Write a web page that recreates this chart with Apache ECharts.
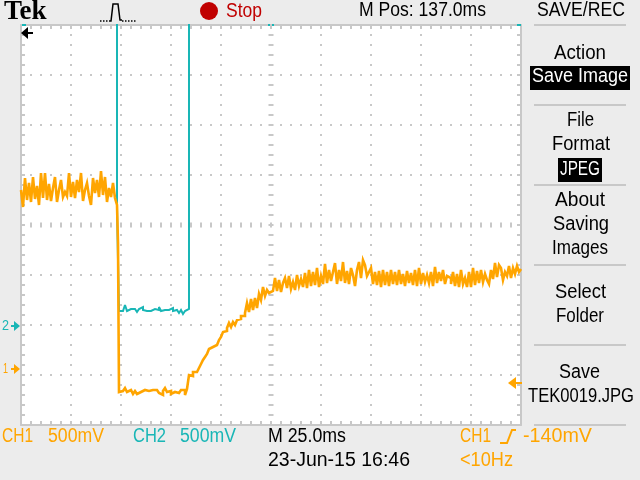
<!DOCTYPE html>
<html>
<head>
<meta charset="utf-8">
<style>html,body{margin:0;padding:0;background:#ececec}#c{width:640px;height:480px}</style>
<script src="https://cdn.jsdelivr.net/npm/echarts@6/dist/echarts.min.js"></script>
</head>
<body>
<div id="c"></div>
<script>
// Time in ms from trigger, voltage in mV on screen (500 mV/div, 25 ms/div)
const ch1Before = [350,180,470,250,420,230,480,260,390,200,520,270,520,250,410,240,370,480,230,350,450,280,330,290,520,280,430,270,450,330,520,240,350,420,290,200,470,320,450,280,540,300,480,230,370,280,420,270];
const ch1Drop = [200,-180];
const ch1Low = [-1670,-1660,-1670,-1630,-1670,-1650,-1670,-1690,-1660,-1690,-1670,-1680,-1650,-1670,-1660,-1640,-1650,-1650,-1650,-1670,-1680,-1700,-1660,-1630,-1670,-1660,-1690,-1670,-1680,-1680,-1690,-1650,-1650,-1700,-1640];
const ch1Rise = [-1500,-1510,-1470,-1470,-1450,-1430,-1390,-1350,-1320,-1290,-1240,-1220,-1240,-1200,-1190,-1150,-1120,-1070,-1060,-1030,-980,-1020,-970,-1000,-950,-940,-910,-910,-880,-780,-870,-740,-850,-730,-830,-690,-750,-620,-710,-650,-680,-660];
const ch1Settle = [-650,-530,-660,-550,-670,-580,-530,-630,-510,-640,-570,-650,-500,-610,-540,-620,-480,-630,-450,-610,-470,-600,-430,-620,-510,-590,-390,-580,-450,-560,-470,-380,-590,-450,-560,-370,-580,-460,-590,-430,-500,-610,-450,-370,-530,-350,-400,-510,-470,-430,-590,-470,-600,-460,-620,-450,-600,-470,-610,-450,-590];
const ch1Tail = [-470,-600,-450,-590,-490,-610,-460,-580,-480,-600,-450,-610,-430,-590,-480,-570,-500,-580,-470,-610,-420,-580,-470,-560,-450,-590,-510,-530,-590,-470,-610,-490,-620,-450,-590,-530,-620,-470,-620,-430,-600,-460,-580,-450,-570,-490,-550,-590,-450,-540,-380,-520,-400,-430,-550,-470,-510,-410,-530,-430,-490,-410,-470,-440];
const ch2Fall = [[-77,2300],[-77,170],[-76,170]];
const ch2Low = [-860,-860,-850,-800,-860,-840,-860,-840,-860,-870,-840,-820,-850,-860,-880,-860,-840,-840,-860,-850,-820,-860,-850,-840,-850,-860,-830,-860,-850,-850,-880,-850,-890,-860,-840];
const ch2Rise = [[-41,-860],[-41,2300]];
const timeRange = [-125,125];
const voltRange = [-2000,2000];
const timePerDiv = 25;
const voltPerDiv = 500;

const run = (start, vals) => vals.map((v,i)=>[start+i, v]);
const ch1Data = [].concat(
  run(-125, ch1Before),
  [[-77, ch1Drop[0]], [-76.5, ch1Drop[1]]],
  run(-76, ch1Low),
  run(-41, ch1Rise),
  run(1, ch1Settle),
  run(62, ch1Tail)
);
const ch2Data = [].concat(ch2Fall, run(-76, ch2Low), ch2Rise);

const ORANGE='#ffa500', CYAN='#19b6b6', GRID='#c8c8c8', BLACK='#000', RED='#c00000';
const FONT='"Liberation Sans Narrow","Liberation Sans",sans-serif';
const meas=document.createElement('canvas').getContext('2d');
function label(text,x0,x1,y,fill,size){
  size=size||20;
  const font=size+'px '+FONT;
  meas.font=font;
  return {type:'text',x:x0,y:y,scaleX:(x1-x0)/meas.measureText(text).width,z:50,silent:true,
    style:{text:text,x:0,y:0,font:font,fill:fill||BLACK,textAlign:'left',textVerticalAlign:'middle'}};
}
const rect=(x,y,w,h,fill,z)=>({type:'rect',shape:{x,y,width:w,height:h},style:{fill},z:z||40,silent:true});
const sep=y=>rect(534,y-1,92,2,GRID);
const poly=(pts,fill)=>({type:'polygon',shape:{points:pts},style:{fill},z:45,silent:true});
const pline=(pts,stroke,w)=>({type:'polyline',shape:{points:pts},style:{stroke,lineWidth:w||1.5,fill:'none'},z:45,silent:true});

const graphics=[
  {type:'text',x:4,y:12,z:50,silent:true,style:{text:'Tek',x:0,y:0,font:'bold 27px "Liberation Serif",serif',fill:BLACK,textAlign:'left',textVerticalAlign:'middle'}},
  {type:'polyline',shape:{points:[[100,21],[109,21]]},style:{stroke:BLACK,lineWidth:1.5,lineDash:[1.5,1.5],fill:'none'},z:45,silent:true},
  pline([[109,21],[111,21],[113,4],[118,4],[120,20],[122,20]],BLACK),
  {type:'polyline',shape:{points:[[122,21],[136,21]]},style:{stroke:BLACK,lineWidth:1.5,lineDash:[1.5,1.5],fill:'none'},z:45,silent:true},
  {type:'circle',shape:{cx:209,cy:11,r:9},style:{fill:RED},z:45,silent:true},
  label('Stop',226,262,11,RED),
  label('M Pos: 137.0ms',359,486,10),
  label('SAVE/REC',537,625,10),
  sep(25),sep(105),sep(185),sep(265),sep(345),sep(425),
  label('Action',554,606,53),
  rect(530,66,100,24,BLACK),
  label('Save Image',532,628,76,'#fff'),
  label('File',567,594,120),
  label('Format',552,610,144),
  rect(558,158,44,24,BLACK),
  label('JPEG',560,600,169,'#fff'),
  label('About',555,605,200),
  label('Saving',553,609,224),
  label('Images',552,608,248),
  label('Select',555,606,292),
  label('Folder',556,604,316),
  label('Save',559,600,372),
  label('TEK0019.JPG',528,634,396),
  label('CH1',2,33,436,ORANGE),
  label('500mV',48,104,436,ORANGE),
  label('CH2',133,166,436,CYAN),
  label('500mV',180,236,436,CYAN),
  label('M 25.0ms',268,346,436),
  label('23-Jun-15 16:46',268,410,460),
  label('CH1',460,491,436,ORANGE),
  pline([[500,443],[507,443],[512,430],[516,430]],ORANGE,2),
  label('-140mV',523,592,436,ORANGE),
  label('<10Hz',460,513,460,ORANGE),
  // ground and trigger markers
  label('2',2,9,326,CYAN,15),
  poly([[20,326],[14,321],[14,331]],CYAN),
  rect(11,325,4,2,CYAN),
  label('1',3,8,369,ORANGE,15),
  poly([[20,369],[14,364],[14,374]],ORANGE),
  rect(11,368,4,2,ORANGE),
  poly([[21,33],[28,27],[28,39]],BLACK),
  rect(27,32,6,2,BLACK),
  poly([[508,383],[516,377],[516,389]],ORANGE),
  rect(515,382,7,2,ORANGE),
  // small cyan tips on the top frame
  rect(22,24,4,2,CYAN),
  rect(268,24,2,2,CYAN),
  rect(272,24,2,2,CYAN),
  rect(517,24,4,2,CYAN)
];

const hidden={show:false};
const tickStyle=(len,w)=>({show:true,inside:true,length:len,lineStyle:{color:GRID,width:w||2}});
const minor=(len,w)=>({show:true,splitNumber:5,length:len,lineStyle:{color:GRID,width:w||2}});
const xBase={type:'value',min:timeRange[0],max:timeRange[1],interval:timePerDiv,axisLabel:hidden,splitLine:hidden};
const yBase={type:'value',min:voltRange[0],max:voltRange[1],interval:voltPerDiv,axisLabel:hidden,splitLine:hidden};
const frame={show:true,onZero:false,lineStyle:{color:GRID,width:2}};

const chart=echarts.init(document.getElementById('c'),null,{renderer:'canvas',width:640,height:480});
chart.setOption({
  animation:false,
  backgroundColor:'#ececec',
  grid:{left:21,right:119,top:25,bottom:55,show:true,backgroundColor:'#fff',borderWidth:0,containLabel:false},
  xAxis:[
    Object.assign({},xBase,{position:'bottom',axisLine:frame,axisTick:tickStyle(4),minorTick:minor(4),
      splitLine:{show:true,lineStyle:{color:GRID,width:2,type:[2,8],dashOffset:1}}}),
    Object.assign({},xBase,{position:'top',axisLine:frame,axisTick:tickStyle(4),minorTick:minor(4)}),
    Object.assign({},xBase,{position:'bottom',offset:-197.5,axisLine:{show:false,onZero:false},axisTick:tickStyle(5),minorTick:minor(5)})
  ],
  yAxis:[
    Object.assign({},yBase,{position:'left',axisLine:frame,axisTick:tickStyle(4),minorTick:minor(4),
      splitLine:{show:true,lineStyle:{color:GRID,width:2,type:[2,8],dashOffset:1}}}),
    Object.assign({},yBase,{position:'right',axisLine:frame,axisTick:tickStyle(4),minorTick:minor(4)}),
    Object.assign({},yBase,{position:'left',offset:-247.5,axisLine:{show:false,onZero:false},axisTick:tickStyle(5),minorTick:minor(5)})
  ],
  graphic:graphics,
  series:[
    {name:'CH2',type:'line',data:ch2Data,xAxisIndex:0,yAxisIndex:0,showSymbol:false,symbol:'none',step:'end',
     lineStyle:{color:CYAN,width:2,join:'miter',miterLimit:2},z:5,clip:true},
    {name:'CH1',type:'line',data:ch1Data,xAxisIndex:0,yAxisIndex:0,showSymbol:false,symbol:'none',step:'end',
     lineStyle:{color:ORANGE,width:2.6,join:'miter',miterLimit:5},z:6,clip:true}
  ]
});
</script>
</body>
</html>
